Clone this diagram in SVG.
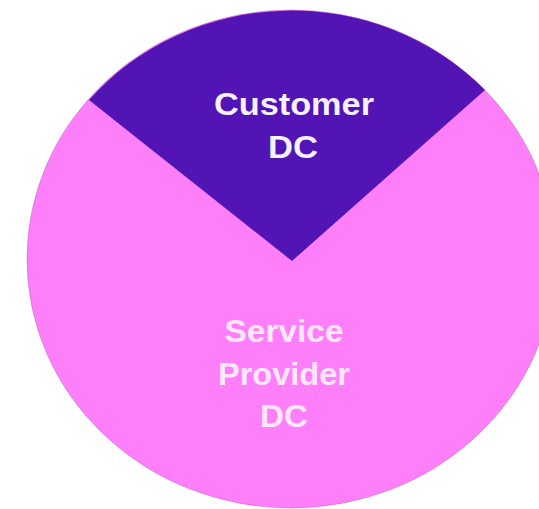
<svg xmlns="http://www.w3.org/2000/svg" width="539" height="509" viewBox="0 0 539 509">
  <style>
    .lbl { font-family: "Liberation Sans", Arial, sans-serif; font-weight: bold; font-size: 31px; text-anchor: middle; }
    .cust { fill: #F6F0FF; }
    .prov { fill: #FFE8FF; }
  </style>
  <rect width="539" height="509" fill="#FFFFFF"/>
  <!-- service provider share: full ellipse -->
  <g id="service-provider">
    <ellipse cx="291" cy="259" rx="264" ry="249" fill="#FF7EF9" stroke="#C070C8" stroke-width="0.6"/>
    <text class="lbl prov" x="284" y="342" textLength="119" lengthAdjust="spacingAndGlyphs">Service</text>
    <text class="lbl prov" x="284" y="385" textLength="132" lengthAdjust="spacingAndGlyphs">Provider</text>
    <text class="lbl prov" x="284" y="427" textLength="48" lengthAdjust="spacingAndGlyphs">DC</text>
  </g>
  <!-- customer share: top wedge -->
  <g id="customer">
    <path d="M292 261 L89 100 A264 249 0 0 1 485 90 Z" fill="#5214B4"/>
    <text class="lbl cust" x="294" y="115" textLength="160" lengthAdjust="spacingAndGlyphs">Customer</text>
    <text class="lbl cust" x="293" y="158" textLength="50" lengthAdjust="spacingAndGlyphs">DC</text>
  </g>
</svg>
